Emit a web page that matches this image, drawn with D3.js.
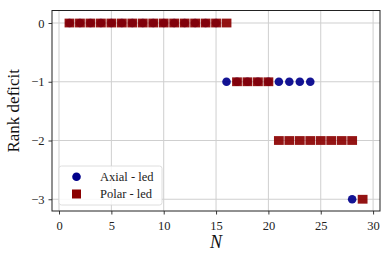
<!DOCTYPE html>
<html><head><meta charset="utf-8">
<script src="https://cdn.jsdelivr.net/npm/d3@7"></script>
<style>body{margin:0;background:#fff}svg{display:block}</style>
</head><body><svg id="c" width="391" height="259"></svg>
<script>
const axialN =   [1,2,3,4,5,6,7,8,9,10,11,12,13,14,15,16,17,18,19,20,21,22,23,24,28];
const axialDef = [0,0,0,0,0,0,0,0,0,0,0,0,0,0,0,-1,-1,-1,-1,-1,-1,-1,-1,-1,-3];
const polarN =   [1,2,3,4,5,6,7,8,9,10,11,12,13,14,15,16,17,18,19,20,21,22,23,24,25,26,27,28,29];
const polarDef = [0,0,0,0,0,0,0,0,0,0,0,0,0,0,0,0,-1,-1,-1,-1,-2,-2,-2,-2,-2,-2,-2,-2,-3];
const xTicks = [0,5,10,15,20,25,30];
const yTicks = [0,-1,-2,-3];
const legendLabels = ["Axial - led","Polar - led"];

const svg = d3.select("#c");
const L=52, R=380, T=10.5, B=211;
const x = d3.scaleLinear().domain([-0.67,30.66]).range([L,R]);
const y = d3.scaleLinear().domain([-3.2,0.213]).range([B,T]);
const font = "'Liberation Serif', 'DejaVu Serif', serif";
const blue = "#00008b", red = "#8b0000";

// grid
const g = svg.append("g");
g.selectAll(".gx").data(xTicks).join("line")
  .attr("x1",d=>x(d)).attr("x2",d=>x(d)).attr("y1",T).attr("y2",B)
  .attr("stroke","#cfcfcf").attr("stroke-width",1);
g.selectAll(".gy").data(yTicks).join("line")
  .attr("y1",d=>y(d)).attr("y2",d=>y(d)).attr("x1",L).attr("x2",R)
  .attr("stroke","#cfcfcf").attr("stroke-width",1);

// axes
const fmt = d => d<0 ? "\u2212"+Math.abs(d) : String(d);
const xa = svg.append("g").attr("transform",`translate(0,${B})`)
  .call(d3.axisBottom(x).tickValues(xTicks).tickFormat(fmt).tickSize(3.5).tickPadding(4));
const ya = svg.append("g").attr("transform",`translate(${L},0)`)
  .call(d3.axisLeft(y).tickValues(yTicks).tickFormat(fmt).tickSize(3.5).tickPadding(4));
[xa,ya].forEach(a=>{
  a.select(".domain").remove();
  a.selectAll("line").attr("stroke","#222").attr("stroke-width",0.9);
  a.selectAll("text").attr("font-family",font).attr("font-size",12.5).attr("fill","#222");
});
xa.selectAll("text").attr("dy","0.9em");

// markers
svg.append("g").selectAll("circle").data(axialN.map((n,i)=>[n,axialDef[i]])).join("circle")
  .attr("cx",d=>x(d[0])).attr("cy",d=>y(d[1])).attr("r",4.3)
  .attr("fill",blue).attr("fill-opacity",0.92);
svg.append("g").selectAll("rect").data(polarN.map((n,i)=>[n,polarDef[i]])).join("rect")
  .attr("x",d=>x(d[0])-4.9).attr("y",d=>y(d[1])-4.4).attr("width",9.8).attr("height",8.8)
  .attr("fill",red).attr("fill-opacity",0.92);

// frame
svg.append("rect").attr("x",L).attr("y",T).attr("width",R-L).attr("height",B-T)
  .attr("fill","none").attr("stroke","#222").attr("stroke-width",1);

// labels
svg.append("text").attr("transform",`translate(19,${(T+B)/2}) rotate(-90)`)
  .attr("text-anchor","middle").attr("font-family",font).attr("font-size",17).attr("fill","#111")
  .text("Rank deficit");
svg.append("text").attr("x",(L+R)/2).attr("y",248).attr("text-anchor","middle")
  .attr("font-family",font).attr("font-size",18).attr("font-style","italic").attr("fill","#111")
  .text("N");

// legend
const lg = svg.append("g");
lg.append("rect").attr("x",59).attr("y",166).attr("width",103).attr("height",39).attr("rx",2.5)
  .attr("fill","#fff").attr("fill-opacity",0.85).attr("stroke","#d5d5d5").attr("stroke-width",0.8);
lg.append("circle").attr("cx",76.5).attr("cy",176.8).attr("r",4.3).attr("fill",blue);
lg.append("rect").attr("x",72).attr("y",189.5).attr("width",9).attr("height",9).attr("fill",red);
lg.selectAll("text").data(legendLabels).join("text")
  .attr("x",100).attr("y",(d,i)=>180.8+i*17.4)
  .attr("font-family",font).attr("font-size",12.5).attr("fill","#222").text(d=>d);
</script></body></html>
